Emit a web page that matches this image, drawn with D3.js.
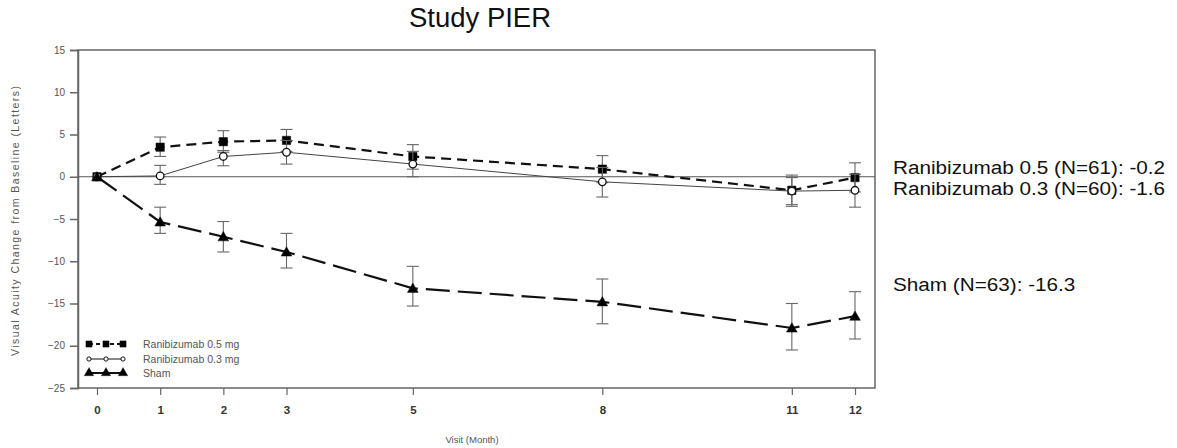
<!DOCTYPE html>
<html>
<head>
<meta charset="utf-8">
<script src="https://cdn.jsdelivr.net/npm/d3@7"></script>
<style>
	body { margin: 0; background: #fff; }
	svg { display: block; font-family: Arial, "Liberation Sans", sans-serif; }
</style>
</head>
<body>
<svg id="chart" width="1177" height="448"></svg>
<script>
// visits and values
const months = [0, 1, 2, 3, 5, 8, 11, 12]
const yTicks = [-25, -20, -15, -10, -5, 0, 5, 10, 15]

const r05Mean = [0, 3.5, 4.15, 4.3, 2.4, 0.9, -1.6, -0.1]
const r05Lo = [0, 2.4, 2.9, 3.0, 0.9, -0.7, -3.5, -1.8]
const r05Hi = [0, 4.7, 5.45, 5.6, 3.8, 2.5, 0.2, 1.65]

const r03Mean = [0, 0.1, 2.4, 2.9, 1.5, -0.6, -1.7, -1.6]
const r03Lo = [0, -0.9, 1.3, 1.5, 0.0, -2.4, -3.3, -3.6]
const r03Hi = [0, 1.35, 3.1, 4.3, 3.0, 1.1, -0.1, 0.3]

const shamMean = [0, -5.35, -7.1, -8.9, -13.2, -14.8, -17.9, -16.5]
const shamLo = [0, -6.7, -8.9, -10.8, -15.3, -17.4, -20.5, -19.2]
const shamHi = [0, -3.6, -5.3, -6.7, -10.6, -12.1, -15.0, -13.6]

const seriesNames = ["Ranibizumab 0.5 mg", "Ranibizumab 0.3 mg", "Sham"]
const endLabels = ["Ranibizumab 0.5 (N=61): -0.2", "Ranibizumab 0.3 (N=60): -1.6", "Sham (N=63): -16.3"]

const series = [
	{ name: seriesNames[0], mean: r05Mean, lo: r05Lo, hi: r05Hi, symbol: d3.symbolSquare, fill: "#000", width: 2.2, dash: "10,6" },
	{ name: seriesNames[1], mean: r03Mean, lo: r03Lo, hi: r03Hi, symbol: d3.symbolCircle, fill: "#fff", width: 1, dash: null },
	{ name: seriesNames[2], mean: shamMean, lo: shamLo, hi: shamHi, symbol: d3.symbolTriangle, fill: "#000", width: 2.2, dash: "24,8" }
]

const svg = d3.select("#chart")

const box = { left: 78, right: 875, top: 50, bottom: 388 }

const x = d3.scaleLinear().domain([0, 12]).range([97, 855])
const y = d3.scaleLinear().domain([-25, 15]).range([box.bottom, box.top])

// title
svg.append("text")
	.attr("x", 480)
	.attr("y", 27)
	.attr("text-anchor", "middle")
	.attr("font-size", 27.5)
	.attr("fill", "#111")
	.text("Study PIER")

// plot frame
svg.append("rect")
	.attr("x", box.left)
	.attr("y", box.top)
	.attr("width", box.right - box.left)
	.attr("height", box.bottom - box.top)
	.attr("fill", "none")
	.attr("stroke", "#666")
	.attr("stroke-width", 1.5)

// axes
const yAxis = svg.append("g")
	.attr("transform", `translate(${box.left},0)`)
	.call(d3.axisLeft(y).tickValues(yTicks).tickSize(8).tickPadding(5))
yAxis.select(".domain").attr("stroke", "#666").attr("stroke-width", 1.5)
yAxis.selectAll(".tick line").attr("stroke", "#666").attr("stroke-width", 1.5)
yAxis.selectAll(".tick text").attr("font-size", 10).attr("fill", "#555").attr("font-family", "Arial, 'Liberation Sans', sans-serif")

const xAxis = svg.append("g")
	.attr("transform", `translate(0,${box.bottom})`)
	.call(d3.axisBottom(x).tickValues(months).tickSize(7).tickPadding(11))
xAxis.select(".domain").remove()
xAxis.selectAll(".tick line").attr("stroke", "#666").attr("stroke-width", 1.2)
xAxis.selectAll(".tick text").attr("font-size", 11.5).attr("font-weight", "bold").attr("fill", "#333").attr("font-family", "Arial, 'Liberation Sans', sans-serif")

// zero reference line
svg.append("line")
	.attr("x1", box.left)
	.attr("x2", box.right)
	.attr("y1", y(0))
	.attr("y2", y(0))
	.attr("stroke", "#555")
	.attr("stroke-width", 1.2)

// axis titles
svg.append("text")
	.attr("x", 472)
	.attr("y", 443)
	.attr("text-anchor", "middle")
	.attr("font-size", 9.5)
	.attr("fill", "#555")
	.text("Visit (Month)")

svg.append("text")
	.attr("transform", `translate(19,221) rotate(-90)`)
	.attr("text-anchor", "middle")
	.attr("font-size", 10.5)
	.attr("fill", "#555")
	.attr("textLength", 270)
	.attr("lengthAdjust", "spacing")
	.text("Visual Acuity Change from Baseline (Letters)")

/**
 * One group per treatment arm: error bars, the line and the markers.
 */
const line = d3.line().x((d, i) => x(months[i])).y(d => y(d))

const arm = svg.selectAll(".arm")
	.data(series)
	.enter()
	.append("g")
	.attr("class", "arm")

arm.each(function (s) {
	const g = d3.select(this)
	const pts = months.map((m, i) => ({ m, v: s.mean[i], lo: s.lo[i], hi: s.hi[i] })).filter(p => p.m > 0)

	const bars = g.selectAll(".err").data(pts).enter().append("g").attr("class", "err")
		.attr("stroke", "#666").attr("stroke-width", 1.1)
	bars.append("line").attr("x1", d => x(d.m)).attr("x2", d => x(d.m)).attr("y1", d => y(d.lo)).attr("y2", d => y(d.hi))
	bars.append("line").attr("x1", d => x(d.m) - 6).attr("x2", d => x(d.m) + 6).attr("y1", d => y(d.lo)).attr("y2", d => y(d.lo))
	bars.append("line").attr("x1", d => x(d.m) - 6).attr("x2", d => x(d.m) + 6).attr("y1", d => y(d.hi)).attr("y2", d => y(d.hi))

	g.append("path")
		.datum(s.mean)
		.attr("d", line)
		.attr("fill", "none")
		.attr("stroke", s.width > 1.5 ? "#111" : "#444")
		.attr("stroke-width", s.width)
		.attr("stroke-dasharray", s.dash)
})

arm.each(function (s) {
	d3.select(this).selectAll(".mark")
		.data(s.mean)
		.enter()
		.append("path")
		.attr("class", "mark")
		.attr("transform", (d, i) => `translate(${x(months[i])},${y(d) + (s.symbol === d3.symbolTriangle ? 1 : 0)})`)
		.attr("d", d3.symbol().type(s.symbol).size(s.symbol === d3.symbolCircle ? 45 : (s.symbol === d3.symbolTriangle ? 50 : 70)))
		.attr("fill", s.fill)
		.attr("stroke", "#111")
		.attr("stroke-width", s.symbol === d3.symbolCircle ? 1.3 : 0.5)
})

// legend in lower left of the plot
const legendY = [344, 359, 373]
const legend = svg.selectAll(".legend")
	.data(series)
	.enter()
	.append("g")
	.attr("class", "legend")
	.attr("transform", (d, i) => `translate(89,${legendY[i]})`)

legend.append("line")
	.attr("x1", 0).attr("x2", 34).attr("y1", 0).attr("y2", 0)
	.attr("stroke", "#111")
	.attr("stroke-width", d => d.width > 1.5 ? 1.8 : 1)
	.attr("stroke-dasharray", d => d.symbol === d3.symbolSquare ? "4,3" : null)

legend.each(function (s) {
	d3.select(this).selectAll(".lm")
		.data([0, 17, 34])
		.enter()
		.append("path")
		.attr("class", "lm")
		.attr("transform", d => `translate(${d},0)`)
		.attr("d", d3.symbol().type(s.symbol).size(s.symbol === d3.symbolCircle ? 14 : 40))
		.attr("fill", s.fill)
		.attr("stroke", "#111")
		.attr("stroke-width", s.symbol === d3.symbolCircle ? 1 : 0.3)
})

legend.append("text")
	.attr("x", 54)
	.attr("y", 3.5)
	.attr("font-size", 10.5)
	.attr("fill", "#555")
	.text(d => d.name)

// end-of-study labels to the right of the plot (a little wider than the font's natural width)
const endY = [168, 189, 285]
svg.selectAll(".endlabel")
	.data(endLabels)
	.enter()
	.append("text")
	.attr("class", "endlabel")
	.attr("x", 893)
	.attr("y", (d, i) => endY[i] + 6)
	.attr("font-size", 18)
	.attr("fill", "#111")
	.text(d => d)
	.each(function () {
		const w = this.getComputedTextLength()
		d3.select(this).attr("textLength", w * 1.15).attr("lengthAdjust", "spacingAndGlyphs")
	})
</script>
</body>
</html>
